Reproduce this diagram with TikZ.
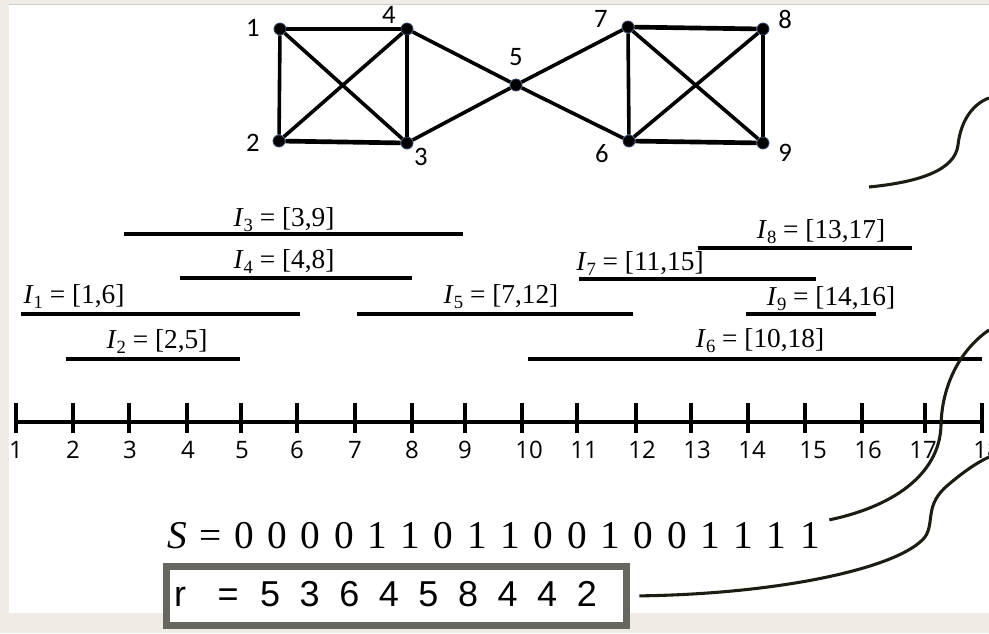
\documentclass[tikz,border=0pt]{standalone}
\usepackage{fontspec}
\setmainfont{Liberation Serif}
\newfontfamily\graphfont{Carlito}
\newfontfamily\tickfont{Open Sans}
\newfontfamily\rfont{Liberation Sans}
\definecolor{bgbeige}{RGB}{238,236,228}
\definecolor{boxgray}{RGB}{103,103,98}
\definecolor{curvecol}{RGB}{28,28,18}
\definecolor{dotedge}{RGB}{50,70,110}
\newcommand{\Iv}[2]{\textit{I}\raisebox{-0.45ex}{\fontsize{14pt}{14pt}\selectfont #1} = #2}
\newcommand{\rdig}[1]{\makebox[29.7pt]{#1}}
\begin{document}
\begin{tikzpicture}[x=0.75pt,y=-0.75pt,
  edge/.style={line width=2.7pt},
  thickedge/.style={line width=3.5pt},
  vdot/.style={circle, fill=black, draw=dotedge, line width=0.6pt, inner sep=0pt, minimum size=9pt},
  vlabel/.style={font=\graphfont\fontsize{20pt}{22pt}\selectfont, inner sep=0pt},
  ival/.style={line width=3.4pt},
  ilabel/.style={font=\fontsize{20.5pt}{22pt}\selectfont, anchor=base, inner sep=0pt},
  axtick/.style={line width=2.8pt},
  ticklabel/.style={font=\tickfont\fontsize{18pt}{20pt}\selectfont, anchor=base, inner sep=0pt},
  bitlabel/.style={font=\fontsize{29.5pt}{31pt}\selectfont, anchor=base, inner sep=0pt},
  rbox/.style={draw=boxgray, line width=5.25pt, fill=white, minimum width=345pt, minimum height=44.25pt, inner sep=0pt},
  link/.style={draw=curvecol, line width=2.3pt},
]
\useasboundingbox (0,0) rectangle (989,633);
\fill[bgbeige] (0,0) rectangle (989,633);
\fill[white] (9,5) rectangle (989,613);
\draw[line width=0.8pt, black!20] (9,4.5) -- (989,4.5);

% graph
\node[vdot] (v1) at (280,29) {};
\node[vdot] (v4) at (407,29) {};
\node[vdot] (v2) at (279,141) {};
\node[vdot] (v3) at (407,143) {};
\node[vdot] (v5) at (516,85) {};
\node[vdot] (v7) at (628,27) {};
\node[vdot] (v8) at (763,29) {};
\node[vdot] (v6) at (629,141) {};
\node[vdot] (v9) at (763,143) {};
\draw[thickedge] (v1) -- (v4);
\draw[thickedge] (v2) -- (v3);
\draw[thickedge] (v7) -- (v8);
\draw[thickedge] (v6) -- (v9);
\draw[edge] (v1) -- (v2);
\draw[edge] (v1) -- (v3);
\draw[edge] (v2) -- (v4);
\draw[edge] (v4) -- (v3);
\draw[edge] (v4) -- (v5);
\draw[edge] (v3) -- (v5);
\draw[edge] (v5) -- (v7);
\draw[edge] (v5) -- (v6);
\draw[edge] (v7) -- (v6);
\draw[edge] (v7) -- (v9);
\draw[edge] (v6) -- (v8);
\draw[edge] (v8) -- (v9);
\node[vlabel] (l1) at (253,28) {1};
\node[vlabel] (l4) at (389,15) {4};
\node[vlabel] (l5) at (516,57) {5};
\node[vlabel] (l7) at (601,19) {7};
\node[vlabel] (l8) at (785,19) {8};
\node[vlabel] (l2) at (253,143) {2};
\node[vlabel] (l3) at (421,157) {3};
\node[vlabel] (l6) at (602,154) {6};
\node[vlabel] (l9) at (785,153) {9};

% intervals
\draw[ival] (124,234) -- (463,234);
\node[ilabel] (i3) at (284,226) {\Iv{3}{[3,9]}};
\draw[ival] (180,278) -- (412,278);
\node[ilabel] (i4) at (284,268) {\Iv{4}{[4,8]}};
\draw[ival] (21,314) -- (300,314);
\node[ilabel] (i1) at (74,303) {\Iv{1}{[1,6]}};
\draw[ival] (357,314) -- (633,314);
\node[ilabel] (i5) at (501,303) {\Iv{5}{[7,12]}};
\draw[ival] (66,359) -- (240,359);
\node[ilabel] (i2) at (157,348) {\Iv{2}{[2,5]}};
\draw[ival] (698,248) -- (912,248);
\node[ilabel] (i8) at (821,238) {\Iv{8}{[13,17]}};
\draw[ival] (579,279) -- (816,279);
\node[ilabel] (i7) at (640,270) {\Iv{7}{[11,15]}};
\draw[ival] (746,314) -- (876,314);
\node[ilabel] (i9) at (831,305) {\Iv{9}{[14,16]}};
\draw[ival] (528,359) -- (982,359);
\node[ilabel] (i6) at (760,347) {\Iv{6}{[10,18]}};

% axis
\draw[line width=2.4pt] (14,422) -- (984,422);
\foreach \n/\tx/\lx in {1/16/16, 2/73/73, 3/129/130, 4/187/188, 5/241/242, 6/297/297, 7/355/355, 8/412/412, 9/465/465, 10/522/529, 11/577/584, 12/636/642, 13/691/697, 14/748/752, 15/805/813, 16/862/868, 17/925/923, 18/982/987}{
  \draw[axtick] (\tx,403) -- (\tx,433);
  \node[ticklabel] (t\n) at (\lx,458) {\n};
}

% S line
\node[bitlabel] (Sname) at (177,548) {\textit{S}};
\node[bitlabel] (Seq) at (211,548) {=};
\foreach \bv [count=\i] in {0,0,0,0,1,1,0,1,1,0,0,1,0,0,1,1,1,1}{
  \node[bitlabel] (s\i) at ({244+33.3*(\i-1)},548) {\bv};
}

% r box
\node[rbox] (rb) at (396.5,596) {};
\node[anchor=base, font=\rfont\fontsize{27pt}{29pt}\selectfont, inner sep=0pt] (rt) at (380.5,606)
  {\makebox[38.7pt]{r}\makebox[33.3pt]{=}\rdig{5}\rdig{3}\rdig{6}\rdig{4}\rdig{5}\rdig{8}\rdig{4}\rdig{4}\rdig{2}};

% curves
\coordinate (a0) at (869,187);
\coordinate (a1) at (989,98);
\coordinate (b1) at (989,330);
\coordinate (c1) at (989,457);
\draw[link] (a0) .. controls (920,182) and (955,170) .. (958,145) .. controls (961,118) and (975,103) .. (a1);
\draw[link, shorten <=7pt] (s18.north east) .. controls (900,505) and (940,470) .. (941,425) .. controls (942,385) and (960,350) .. (b1);
\draw[link, shorten <=7pt] (rb.east) .. controls (780,594) and (900,568) .. (925,537) .. controls (935,522) and (924,505) .. (948,485) .. controls (962,473) and (976,463) .. (c1);
\end{tikzpicture}
\end{document}
